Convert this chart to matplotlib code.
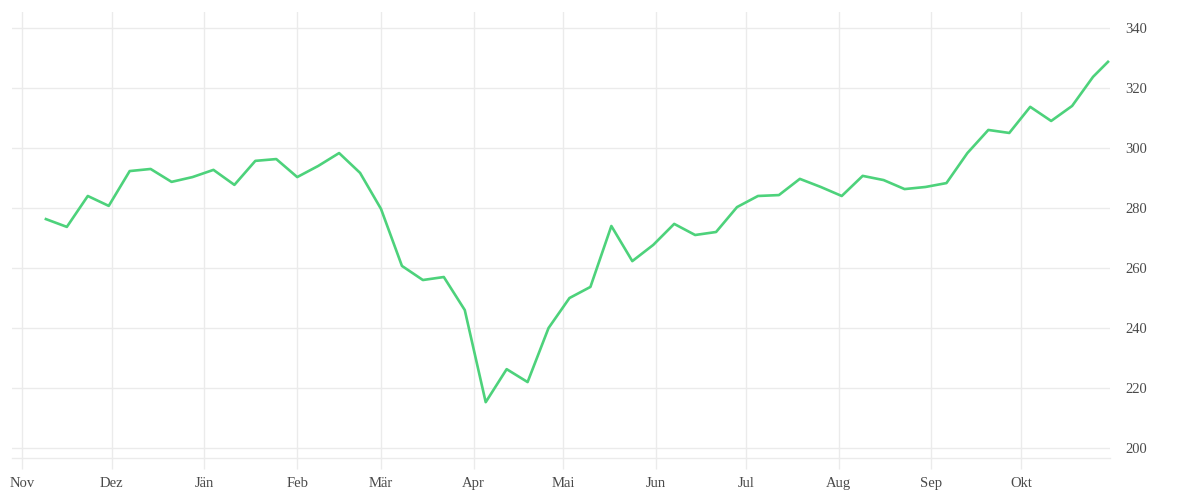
import numpy as np
import pandas as pd
import matplotlib
matplotlib.use('Agg')
import matplotlib.pyplot as plt
import matplotlib.dates as mdates

# weekly closes
start_date = '2020-11-09'
last_date = '2021-10-30'
values = [276.3, 273.7, 284.0, 280.7, 292.3, 293.0, 288.7, 290.3, 292.7, 287.7,
          295.7, 296.3, 290.3, 294.0, 298.3, 291.7, 279.7, 260.7, 256.0, 257.0,
          246.0, 215.3, 226.3, 222.0, 240.0, 250.0, 253.7, 274.0, 262.3, 267.7,
          274.7, 271.0, 272.0, 280.3, 284.0, 284.3, 289.7, 287.0, 284.0, 290.7,
          289.3, 286.3, 287.0, 288.3, 298.3, 306.0, 305.0, 313.7, 309.0, 314.0,
          323.7, 328.7]
month_labels = ['Nov', 'Dez', 'Jän', 'Feb', 'Mär', 'Apr', 'Mai', 'Jun', 'Jul',
                'Aug', 'Sep', 'Okt']
month_starts = pd.date_range('2020-11-01', periods=12, freq='MS')
y_ticks = [200, 220, 240, 260, 280, 300, 320, 340]

dates = list(pd.date_range(start_date, periods=len(values) - 1, freq='7D'))
dates.append(pd.Timestamp(last_date))

GRID = '#ebebeb'
TXT = '#4a4a4a'

fig = plt.figure(figsize=(12, 5), dpi=100)
ax = fig.add_axes([0.01, 0.084, 0.915, 0.892])

ax.plot(dates, values, color='#4dd27b', linewidth=1.9, solid_joinstyle='round')

ax.set_xlim(pd.Timestamp('2020-10-28 16:00'), pd.Timestamp('2021-10-30 16:00'))
ax.set_ylim(196.7, 345.3)

ax.set_xticks(month_starts)
ax.set_xticklabels(month_labels)
ax.set_yticks(y_ticks)
ax.yaxis.tick_right()

ax.grid(True, color=GRID, linewidth=1.0)
ax.set_axisbelow(True)
for side in ['top', 'left', 'right']:
    ax.spines[side].set_visible(False)
ax.spines['bottom'].set_color(GRID)
ax.spines['bottom'].set_linewidth(1.0)

ax.tick_params(axis='x', length=8, width=1.0, color=GRID, pad=6,
               labelsize=10.5, labelcolor=TXT)
ax.tick_params(axis='y', length=0, pad=11, labelsize=10.5, labelcolor=TXT)
for lab in ax.get_xticklabels() + ax.get_yticklabels():
    lab.set_family(['Liberation Serif', 'DejaVu Serif'])
for lab in ax.get_xticklabels():
    lab.set_x(lab.get_position()[0])

fig.savefig('out.png', dpi=100, facecolor='white')
